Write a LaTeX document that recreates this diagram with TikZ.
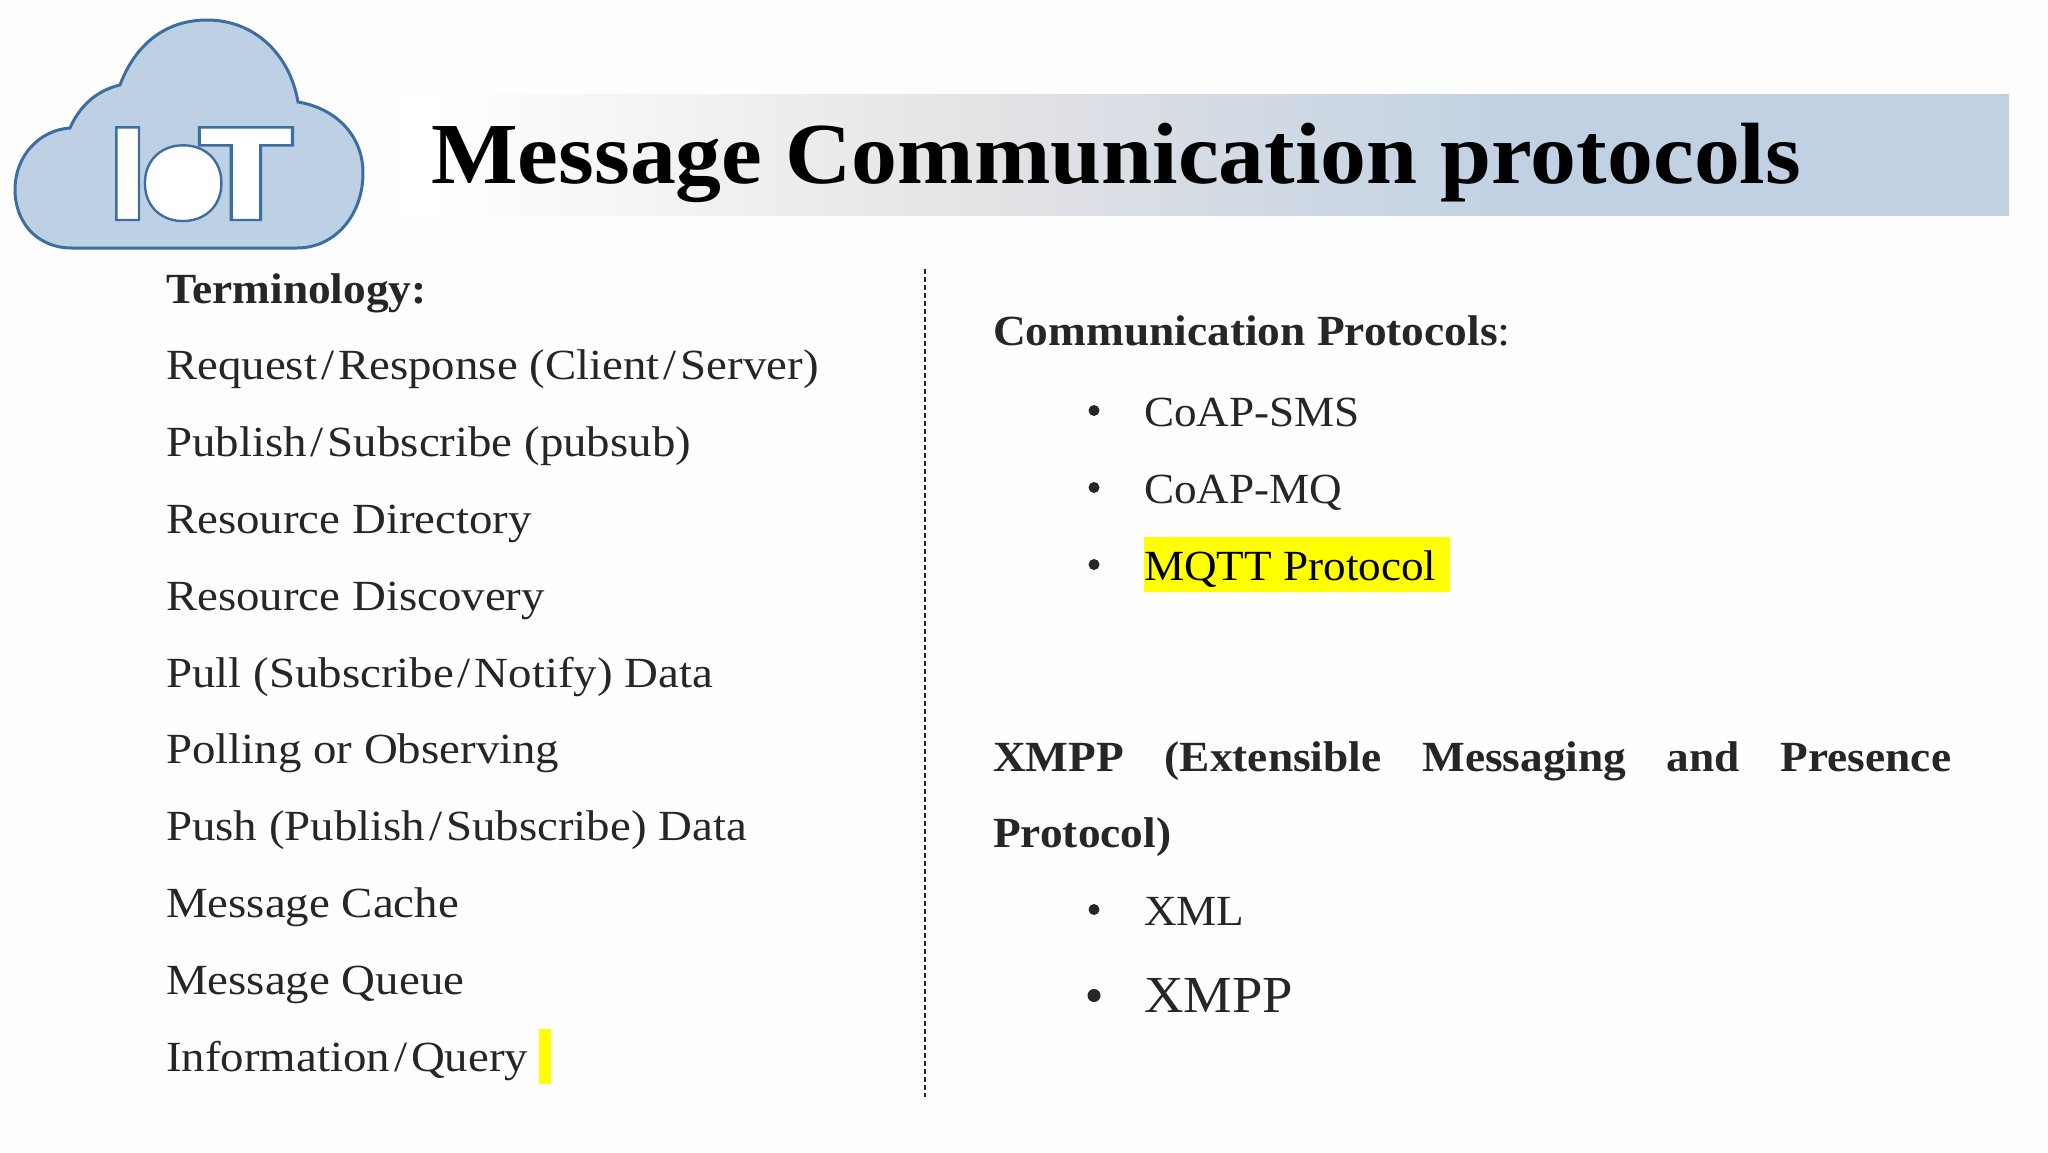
\documentclass[tikz,border=0pt]{standalone}
\usepackage{fontspec}
\setmainfont{Liberation Serif}[FakeStretch=1.09, BoldFeatures={FakeStretch=1.055}]
\newfontfamily\capsfont{Liberation Serif}[FakeStretch=1.05]
\usetikzlibrary{calc,positioning,matrix,backgrounds}
\font\logofont="Poppins/B:embolden=1.8" at 132pt
\definecolor{banner}{RGB}{192,209,227}
\definecolor{bannermid}{RGB}{226,226,229}
\definecolor{bodytext}{RGB}{38,38,38}
\definecolor{cloudfill}{RGB}{190,208,228}
\definecolor{cloudline}{RGB}{60,110,160}
\definecolor{hilite}{RGB}{255,255,0}
\pgfdeclarehorizontalshading{bannershade}{100bp}{color(0bp)=(white); color(26bp)=(white); color(44bp)=(bannermid); color(60bp)=(banner); color(100bp)=(banner)}
\newcommand{\slashgap}{\kern4pt/\kern4pt}
\tikzstyle{body}      = [anchor=base west, inner sep=0pt, text=bodytext, font=\fontsize{43}{50}\selectfont]
\tikzstyle{head}      = [body, font=\fontsize{43}{50}\selectfont\bfseries]
\tikzstyle{item}      = [body, font=\fontsize{43}{50}\selectfont\capsfont]
\tikzstyle{bullet}    = [circle, fill=bodytext, inner sep=0pt, minimum size=11pt, anchor=center, yshift=15.5pt]

\begin{document}
\begin{tikzpicture}[x=1pt,y=-1pt,
			termlist/.style={matrix of nodes,nodes={body, text height=32pt, text depth=12pt}, row sep=32.8pt, column sep=0pt,
				row 1/.style={nodes={head}},
			}]
		\useasboundingbox (0,0) rectangle (2048,1152);
		\fill[white!99.5!black] (0,0) rectangle (2048,1152);

		% title
		\shade[shading=bannershade] (398,94) rectangle (2009,215);
		\node[anchor=base west, inner sep=0pt, font=\fontsize{87}{90}\selectfont\bfseries] (title) at (431,183) {Message Communication protocols};

		% logo
		\draw[fill=cloudfill, draw=cloudline, line width=3pt] (72,248) .. controls (35,248) and (15,220) .. (15,190)
			.. controls (15,155) and (40,130) .. (70,128)
			.. controls (80,105) and (98,90) .. (120,85)
			.. controls (135,45) and (165,20) .. (207,20)
			.. controls (255,20) and (290,55) .. (298,102)
			.. controls (335,108) and (363,135) .. (363,173)
			.. controls (363,215) and (335,248) .. (297,248) -- cycle;
		\node[anchor=base west, inner sep=0pt] (logo) at (108,220) {\special{pdf:bcolor [1 1 1] [0.24 0.43 0.63]}\logofont I\kern-6pt o\kern-30pt\scalebox{1.3}[1]{T}\special{pdf:ecolor}};
		\fill[white] (185,183) circle (28);

		% left column
		\matrix[termlist, matrix anchor=terms-1-1.base west] (terms) at (166,303) {
			Terminology: \\
			Request\slashgap Response (Client\slashgap Server) \\
			Publish\slashgap Subscribe (pubsub) \\
			Resource Directory \\
			Resource Discovery \\
			Pull (Subscribe\slashgap Notify) Data \\
			Polling or Observing \\
			Push (Publish\slashgap Subscribe) Data \\
			Message Cache \\
			Message Queue \\
			Information\slashgap Query \\
		};
		\fill[hilite] (539,1029) rectangle (551,1084);

		% divider
		\coordinate (dividertop) at (925,269);
		\coordinate (dividerbot) at (925,1097);
		\draw[line width=1.2pt, dash pattern=on 5pt off 3pt, bodytext] (dividertop) -- (dividerbot);

		% right column
		\node[head] (commhead) at (993,345) {Communication Protocols\textmd{:}};
		\fill[hilite] (1144,537) rectangle (1450,592);
		\node[item] (coapsms) at (1144,426) {CoAP-SMS};
		\node[item] (coapmq) at (1144,503) {CoAP-MQ};
		\node[item, text=black] (mqtt) at (1144,580) {MQTT Protocol};
		\node[bullet] (b1) at ($(coapsms.base west)+(-50,0)$) {};
		\node[bullet] (b2) at ($(coapmq.base west)+(-50,0)$) {};
		\node[bullet] (b3) at ($(mqtt.base west)+(-50,0)$) {};

		\node[head, text width=958pt, align=justify, anchor=north west, font=\fontsize{43}{76.8}\selectfont\bfseries] (xmpphead) at (993,741) {XMPP (Extensible Messaging and Presence\linebreak Protocol)};
		\node[item] (xml) at (1144,925) {XML};
		\node[item, font=\fontsize{52}{60}\selectfont\capsfont] (xmpp) at (1144,1012) {XMPP};
		\node[bullet] (b4) at ($(xml.base west)+(-50,0)$) {};
		\node[bullet, minimum size=13pt, yshift=1pt] (b5) at ($(xmpp.base west)+(-50,0)$) {};
	\end{tikzpicture}
\end{document}
